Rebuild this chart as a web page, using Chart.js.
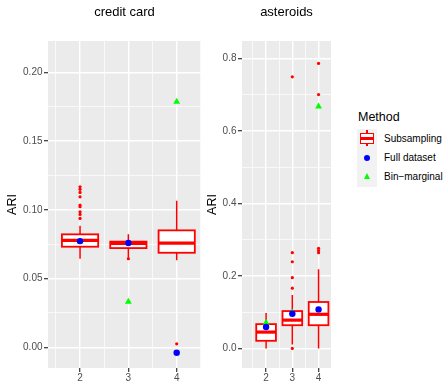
<!DOCTYPE html>
<html>
<head>
<meta charset="utf-8">
<script src="https://cdn.jsdelivr.net/npm/chart.js@4"></script>
<style>
  body { margin: 0; background: #fff; font-family: "Liberation Sans", Arial, sans-serif; }
  #wrap { position: relative; width: 444px; height: 381px; overflow: hidden; }
  canvas { position: absolute; top: 0; }
  #ccCanvas { left: 0; }
  #asCanvas { left: 200px; }
  .abs { position: absolute; }
  .lbl { position: absolute; font-size: 10px; color: #000; line-height: 12px; }
</style>
</head>
<body>
<div id="wrap">
  <canvas id="ccCanvas" width="205" height="381"></canvas>
  <canvas id="asCanvas" width="135" height="381"></canvas>

  <!-- legend -->
  <div class="abs" style="left:358px; top:109px; font-size:12.5px; line-height:16px; color:#000;">Method</div>
  <div class="abs" style="left:357px; top:129px; width:20px; height:58px; background:#F2F2F2;"></div>
  <div class="abs" style="left:366.3px; top:130px; width:1.5px; height:16px; background:#FF0000;"></div>
  <div class="abs" style="left:360px; top:133px; width:14px; height:10.5px; border:1.8px solid #FF0000; box-sizing:border-box; background:#fff;"></div>
  <div class="abs" style="left:360px; top:137px; width:14px; height:2.6px; background:#FF0000;"></div>
  <div class="abs" style="left:364px; top:154.7px; width:6px; height:6px; border-radius:50%; background:#0000FF;"></div>
  <div class="abs" style="left:363.5px; top:173px; width:0; height:0; border-left:3.5px solid transparent; border-right:3.5px solid transparent; border-bottom:6px solid #00FF00;"></div>
  <div class="lbl" style="left:384px; top:133px;">Subsampling</div>
  <div class="lbl" style="left:384px; top:152px;">Full dataset</div>
  <div class="lbl" style="left:384px; top:171px;">Bin−marginal</div>
</div>

<script>
// number of clusters on the x axis
const categories = [2, 3, 4];
const xMinor = [1.5, 2.5, 3.5, 4.5];

// credit card: boxplot stats per k
const ccLower = [0.0644, 0.0655, 0.0633];
const ccQ1 = [0.0732, 0.0722, 0.0688];
const ccMedian = [0.0778, 0.0757, 0.0758];
const ccQ3 = [0.0822, 0.0769, 0.0851];
const ccUpper = [0.0885, 0.0822, 0.1066];
const ccOutliers = [
  [0.0938, 0.0967, 0.0986, 0.1023, 0.1035, 0.1095, 0.1127, 0.1149, 0.1168],
  [0.0645],
  [0.0026],
];
const ccFull = [0.0773, 0.0759, -0.0039];
const ccBin = [0.0770, 0.0332, 0.1786];
const ccYTicks = [0, 0.05, 0.1, 0.15, 0.2];
const ccYLabels = ["0.00", "0.05", "0.10", "0.15", "0.20"];
const ccYMinor = [0.025, 0.075, 0.125, 0.175];

// asteroids: boxplot stats per k
const asLower = [0.0, 0.011, 0.0];
const asQ1 = [0.021, 0.064, 0.064];
const asMedian = [0.045, 0.078, 0.094];
const asQ3 = [0.067, 0.103, 0.128];
const asUpper = [0.098, 0.147, 0.218];
const asOutliers = [
  [],
  [0.0, 0.166, 0.195, 0.239, 0.264, 0.749],
  [0.264, 0.270, 0.276, 0.700, 0.786],
];
const asFull = [0.059, 0.0955, 0.1076];
const asBin = [0.0707, 0.099, 0.667];
const asYTicks = [0, 0.2, 0.4, 0.6, 0.8];
const asYLabels = ["0.0", "0.2", "0.4", "0.6", "0.8"];
const asYMinor = [0.1, 0.3, 0.5, 0.7];

const FONT = "'Liberation Sans', Arial, sans-serif";

// grey panel background
const panelBg = {
  id: "panelBg",
  beforeDraw(chart) {
    const { ctx, chartArea: a } = chart;
    ctx.save();
    ctx.fillStyle = "#EBEBEB";
    ctx.fillRect(a.left, a.top, a.right - a.left, a.bottom - a.top);
    ctx.restore();
  },
};

// draws whiskers, box and median from the stats arrays
const boxplot = {
  id: "boxplot",
  beforeDatasetsDraw(chart, args, opts) {
    const { ctx, chartArea: a } = chart;
    const x = chart.scales.x;
    const y = chart.scales.y;
    ctx.save();
    ctx.beginPath();
    ctx.rect(a.left, a.top, a.right - a.left, a.bottom - a.top);
    ctx.clip();
    ctx.strokeStyle = "#FF0000";
    opts.x.forEach((k, i) => {
      const cx = x.getPixelForValue(k);
      const x0 = x.getPixelForValue(k - opts.width / 2);
      const x1 = x.getPixelForValue(k + opts.width / 2);
      const yTop = y.getPixelForValue(opts.q3[i]);
      const yBot = y.getPixelForValue(opts.q1[i]);

      ctx.lineWidth = 1.5;
      ctx.beginPath();
      ctx.moveTo(cx, y.getPixelForValue(opts.upper[i]));
      ctx.lineTo(cx, yTop);
      ctx.moveTo(cx, yBot);
      ctx.lineTo(cx, y.getPixelForValue(opts.lower[i]));
      ctx.stroke();

      ctx.fillStyle = "#FFFFFF";
      ctx.fillRect(x0, yTop, x1 - x0, yBot - yTop);
      ctx.lineWidth = 1.8;
      ctx.strokeRect(x0, yTop, x1 - x0, yBot - yTop);

      const yMed = y.getPixelForValue(opts.median[i]);
      ctx.lineWidth = 3.2;
      ctx.beginPath();
      ctx.moveTo(x0, yMed);
      ctx.lineTo(x1, yMed);
      ctx.stroke();
    });
    ctx.restore();
  },
};

function makePanel(canvasId, cfg) {
  const major = cfg.yTicks;
  const xAll = categories.concat(xMinor).filter((v) => v >= cfg.xMin && v <= cfg.xMax);
  const yAll = cfg.yTicks.concat(cfg.yMinor).filter((v) => v >= cfg.yMin && v <= cfg.yMax);

  const gridFor = (majors) => ({
    color: "#FFFFFF",
    lineWidth: (c) => (majors.includes(c.tick.value) ? 1.4 : 0.7),
    tickColor: (c) => (majors.includes(c.tick.value) ? "#333333" : "rgba(0,0,0,0)"),
    tickWidth: 1.2,
    tickLength: 4,
    drawOnChartArea: true,
  });

  return new Chart(document.getElementById(canvasId), {
    type: "scatter",
    data: {
      datasets: [
        {
          label: "Subsampling",
          data: categories.flatMap((k, i) => cfg.outliers[i].map((v) => ({ x: k, y: v }))),
          backgroundColor: "#FF0000",
          borderWidth: 0,
          pointRadius: 1.6,
          order: 3,
        },
        {
          label: "Bin-marginal",
          data: categories.map((k, i) => ({ x: k, y: cfg.bin[i] })),
          backgroundColor: "#00FF00",
          borderWidth: 0,
          pointStyle: "triangle",
          pointRadius: 4,
          order: 2,
        },
        {
          label: "Full dataset",
          data: categories.map((k, i) => ({ x: k, y: cfg.full[i] })),
          backgroundColor: "#0000FF",
          borderWidth: 0,
          pointRadius: 3.2,
          order: 1,
        },
      ],
    },
    options: {
      responsive: false,
      animation: false,
      layout: { padding: { left: 0, right: cfg.padRight, top: 0, bottom: 0 } },
      plugins: {
        legend: { display: false },
        tooltip: { enabled: false },
        title: {
          display: true,
          fullSize: false,
          text: cfg.title,
          color: "#000000",
          font: { family: FONT, size: 13, weight: "normal" },
          padding: { top: 5, bottom: 20.4 },
        },
        boxplot: {
          x: categories,
          lower: cfg.lower,
          q1: cfg.q1,
          median: cfg.median,
          q3: cfg.q3,
          upper: cfg.upper,
          width: 0.75,
        },
      },
      scales: {
        x: {
          type: "linear",
          min: cfg.xMin,
          max: cfg.xMax,
          border: { display: false },
          grid: gridFor(categories),
          afterBuildTicks: (s) => {
            s.ticks = xAll.slice().sort((a, b) => a - b).map((v) => ({ value: v }));
          },
          afterFit: (s) => {
            s.height = 13;
          },
          ticks: {
            autoSkip: false,
            maxRotation: 0,
            padding: 0,
            color: "#4D4D4D",
            font: { family: FONT, size: 10 },
            callback: (v) => (categories.includes(v) ? String(v) : ""),
          },
        },
        y: {
          min: cfg.yMin,
          max: cfg.yMax,
          border: { display: false },
          grid: gridFor(major),
          afterBuildTicks: (s) => {
            s.ticks = yAll.slice().sort((a, b) => a - b).map((v) => ({ value: v }));
          },
          afterFit: (s) => {
            s.width = cfg.yWidth;
          },
          title: {
            display: true,
            text: "ARI",
            color: "#000000",
            font: { family: FONT, size: 12.5 },
            padding: { top: 5, bottom: 0 },
          },
          ticks: {
            autoSkip: false,
            padding: 1.5,
            color: "#4D4D4D",
            font: { family: FONT, size: 10 },
            callback: (v) => {
              const idx = major.indexOf(v);
              return idx >= 0 ? cfg.yLabels[idx] : "";
            },
          },
        },
      },
    },
    plugins: [panelBg, boxplot],
  });
}

makePanel("ccCanvas", {
  title: "credit card",
  lower: ccLower, q1: ccQ1, median: ccMedian, q3: ccQ3, upper: ccUpper,
  outliers: ccOutliers, full: ccFull, bin: ccBin,
  yTicks: ccYTicks, yLabels: ccYLabels, yMinor: ccYMinor,
  yMin: -0.015, yMax: 0.2228,
  xMin: 1.337, xMax: 4.503,
  yWidth: 48, padRight: 4,
});

makePanel("asCanvas", {
  title: "asteroids",
  lower: asLower, q1: asQ1, median: asMedian, q3: asQ3, upper: asUpper,
  outliers: asOutliers, full: asFull, bin: asBin,
  yTicks: asYTicks, yLabels: asYLabels, yMinor: asYMinor,
  yMin: -0.054, yMax: 0.8477,
  xMin: 1.082, xMax: 4.474,
  yWidth: 42, padRight: 4,
});
</script>
</body>
</html>
